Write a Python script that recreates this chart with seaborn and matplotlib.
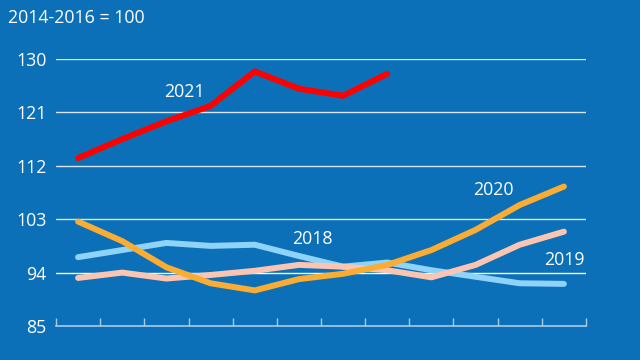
import numpy as np
import pandas as pd
import matplotlib
matplotlib.use("Agg")
import matplotlib.pyplot as plt
import seaborn as sns

# maanden (niet als label getoond in de grafiek)
months = ["jan", "feb", "mrt", "apr", "mei", "jun", "jul", "aug", "sep", "okt", "nov", "dec"]

idx_2018 = [96.6, 97.8, 99.0, 98.5, 98.7, 96.8, 95.0, 95.7, 94.4, 93.3, 92.2, 92.1]
idx_2019 = [93.1, 94.0, 93.0, 93.6, 94.3, 95.3, 95.0, 94.4, 93.2, 95.3, 98.7, 100.9]
idx_2020 = [102.6, 99.3, 94.9, 92.2, 91.0, 92.9, 93.8, 95.3, 97.8, 101.2, 105.4, 108.5]
idx_2021 = [113.3, 116.5, 119.5, 122.1, 127.9, 125.0, 123.8, 127.5]

y_ticks = [85, 94, 103, 112, 121, 130]

colors = {"2018": "#8fd3f8", "2019": "#fcc5b2", "2020": "#fbad33", "2021": "#ff0000"}
bg = "#0b70b8"

rows = []
for year, vals in [("2018", idx_2018), ("2019", idx_2019), ("2020", idx_2020), ("2021", idx_2021)]:
    for i, v in enumerate(vals):
        rows.append({"maand": i, "jaar": year, "index": v})
df = pd.DataFrame(rows)

sns.set_style("white")
plt.rcParams["font.family"] = ["Open Sans", "DejaVu Sans"]
fs = 12.8

fig = plt.figure(figsize=(6.4, 3.6), dpi=100, facecolor=bg)
ax = fig.add_axes([56 / 640, 34 / 360, 530 / 640, 267 / 360])
ax.set_facecolor(bg)

sns.lineplot(data=df, x="maand", y="index", hue="jaar", palette=colors,
             linewidth=4.3, legend=False, ax=ax, sort=False)
for line in ax.get_lines():
    line.set_solid_capstyle("round")
    line.set_solid_joinstyle("round")

ax.set_xlim(-0.5, len(months) - 0.5)
ax.set_ylim(85, 130)
ax.set_yticks(y_ticks)
ax.set_yticklabels([str(t) for t in y_ticks], color="white", fontsize=fs)
ax.set_xticks(np.arange(-0.5, len(months), 1.0))
ax.set_xticklabels([])
ax.tick_params(axis="x", direction="in", length=6, width=1, color="#a9cbe6", bottom=True)
ax.tick_params(axis="y", length=0, pad=7)

for t in y_ticks[1:]:
    ax.axhline(t, color="#d6e6f3" if t != 94 else "white", linewidth=1, zorder=0)

for s in ["top", "right", "left"]:
    ax.spines[s].set_visible(False)
ax.spines["bottom"].set_color("#a9cbe6")
ax.spines["bottom"].set_linewidth(1.2)

ax.set_xlabel("")
ax.set_ylabel("")

fig.text(8 / 640, 1 - 18 / 360, "2014-2016 = 100", color="white", fontsize=fs, va="center", ha="left")
ax.text(2.4, 124.5, "2021", color="white", fontsize=fs, ha="center", va="center")
ax.text(5.3, 99.6, "2018", color="white", fontsize=fs, ha="center", va="center")
ax.text(9.4, 108.0, "2020", color="white", fontsize=fs, ha="center", va="center")
ax.text(11.0, 96.1, "2019", color="white", fontsize=fs, ha="center", va="center")

fig.savefig("out.png", dpi=100, facecolor=bg)
